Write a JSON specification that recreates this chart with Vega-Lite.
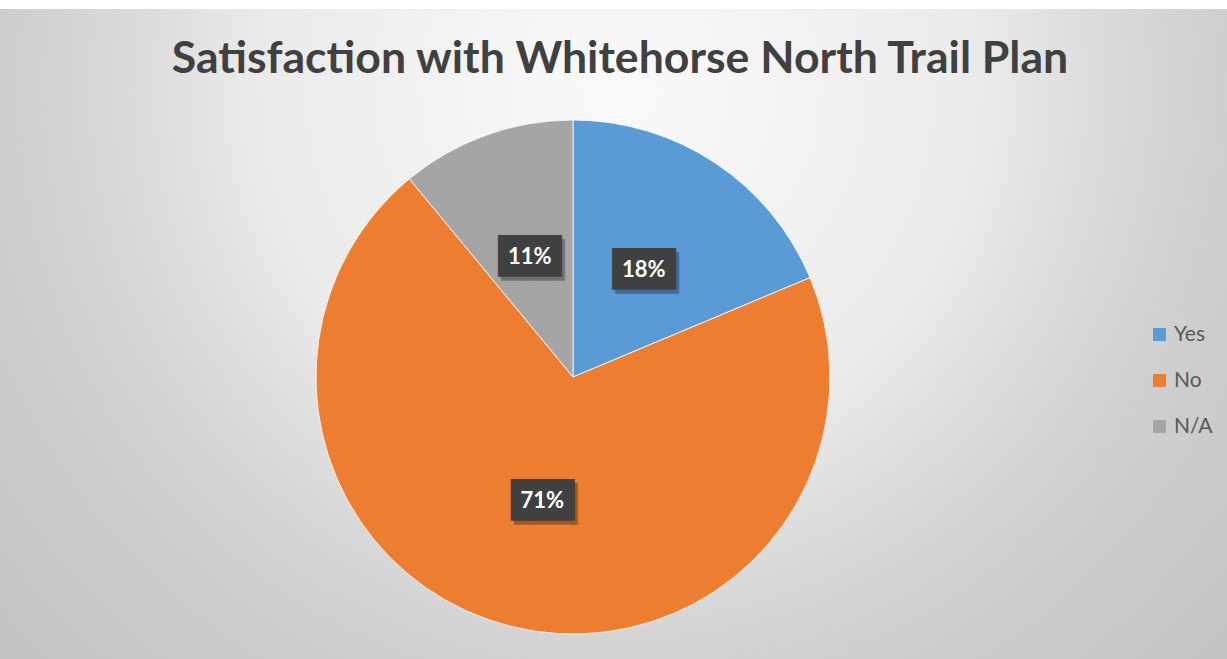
{
  "$schema": "https://vega.github.io/schema/vega-lite/v6.json",
  "width": 1308,
  "height": 736,
  "autosize": {"type": "none"},
  "padding": {"left": -81, "top": 9, "right": 0, "bottom": -86},
  "background": "#ffffff",
  "view": {
    "stroke": null,
    "fill": {
      "gradient": "radial",
      "x1": 0.536, "y1": 0.281, "r1": 0,
      "x2": 0.536, "y2": 0.281, "r2": 0.65,
      "stops": [
        {"offset": 0, "color": "#fafafa"},
        {"offset": 0.43, "color": "#eaeaea"},
        {"offset": 0.56, "color": "#dcdcdc"},
        {"offset": 0.67, "color": "#d2d2d2"},
        {"offset": 0.73, "color": "#cecece"},
        {"offset": 1, "color": "#c2c2c2"}
      ]
    }
  },
  "title": {
    "text": "Satisfaction with Whitehorse North Trail Plan",
    "font": "Lato",
    "fontSize": 44.6,
    "fontWeight": "bold",
    "color": "#404040",
    "frame": "group",
    "anchor": "middle",
    "dx": 47,
    "offset": -109,
    "baseline": "alphabetic"
  },
  "data": {
    "values": [
      {"answer": "Yes", "count": 17, "label": "18%", "rank": 1},
      {"answer": "No", "count": 64, "label": "71%", "rank": 2},
      {"answer": "N/A", "count": 10, "label": "11%", "rank": 3}
    ]
  },
  "encoding": {
    "theta": {"field": "count", "type": "quantitative", "stack": true},
    "order": {"field": "rank", "type": "quantitative"}
  },
  "layer": [
    {
      "mark": {"type": "arc", "radius": 257, "stroke": "#ffffff", "strokeWidth": 0.8},
      "encoding": {
        "color": {
          "field": "answer",
          "type": "nominal",
          "scale": {"domain": ["Yes", "No", "N/A"], "range": ["#5b9bd5", "#ed7d31", "#a5a5a5"]},
          "legend": {
            "orient": "none",
            "legendX": 1230,
            "legendY": 315,
            "title": null,
            "symbolType": "square",
            "symbolSize": 169,
            "symbolStrokeWidth": 0,
            "labelFontSize": 21,
            "labelFont": "Lato",
            "labelColor": "#595959",
            "rowPadding": 24,
            "padding": 0,
            "labelOffset": 4
          }
        }
      }
    },
    {
      "mark": {"type": "text", "radius": 128, "font": "DejaVu Sans Mono", "fontSize": 35, "fill": "#000000", "opacity": 0.3, "baseline": "middle", "dx": 3, "dy": 4},
      "encoding": {"text": {"value": "███"}}
    },
    {
      "mark": {"type": "text", "radius": 128, "font": "DejaVu Sans Mono", "fontSize": 35, "fill": "#404040", "baseline": "middle"},
      "encoding": {"text": {"value": "███"}}
    },
    {
      "mark": {"type": "text", "radius": 128, "font": "Lato", "fontSize": 22, "fontWeight": "bold", "fill": "#ffffff", "baseline": "middle"},
      "encoding": {"text": {"field": "label", "type": "nominal"}}
    }
  ]
}
